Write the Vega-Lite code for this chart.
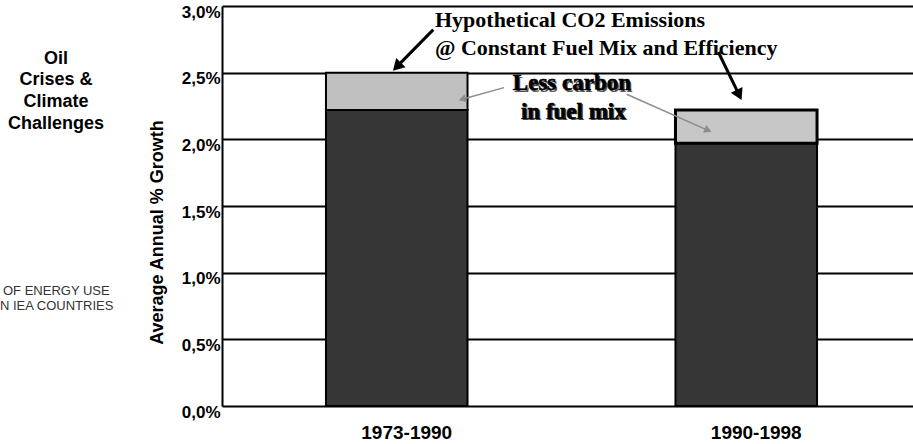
{
  "$schema": "https://vega.github.io/schema/vega-lite/v6.json",
  "width": 691,
  "height": 400,
  "autosize": {"type": "none"},
  "padding": {"left": 222, "top": 6, "right": 0, "bottom": 38},
  "background": "white",
  "config": {"view": {"stroke": null}, "font": "Liberation Sans"},
  "layer": [
    {
      "data": {"values": [
        {"period": "1973-1990", "actual": 2.22, "hypothetical": 2.5},
        {"period": "1990-1998", "actual": 1.97, "hypothetical": 2.22}
      ]},
      "layer": [
        {
          "mark": {"type": "bar", "fill": "#363636", "stroke": "#000", "strokeWidth": 2},
          "encoding": {
            "x": {
              "field": "period", "type": "nominal",
              "scale": {"paddingInner": 0.595, "paddingOuter": 0.286, "align": 0.52},
              "axis": {"title": null, "labelFont": "Liberation Sans", "labelFontSize": 19, "labelFontWeight": "bold", "labelColor": "#000", "labelPadding": 17, "labelOffset": 10, "ticks": false, "domain": false, "grid": false, "labelAngle": 0}
            },
            "y": {
              "field": "actual", "type": "quantitative",
              "scale": {"domain": [0, 3], "nice": false},
              "axis": {
                "title": "Average Annual % Growth", "titleFont": "Liberation Sans", "titleFontSize": 18, "titleFontWeight": "bold", "titleColor": "#000",
                "titleX": -65, "titleY": 226, "titleAngle": 270, "titleAlign": "center", "titleBaseline": "middle",
                "values": [0, 0.5, 1, 1.5, 2, 2.5, 3],
                "labelExpr": "replace(format(datum.value, '.1f'), '.', ',') + '%'",
                "labelFont": "Liberation Sans", "labelFontSize": 17, "labelFontWeight": "bold", "labelColor": "#000",
                "labelPadding": 2, "labelOffset": 6, "labelOverlap": false, "labelBound": false,
                "ticks": false, "domainColor": "#000", "domainWidth": 2,
                "grid": true, "gridColor": "#000", "gridWidth": 2, "gridOpacity": 1
              }
            }
          }
        },
        {
          "mark": {"type": "bar", "stroke": "#000"},
          "encoding": {
            "x": {"field": "period", "type": "nominal"},
            "y": {"field": "actual", "type": "quantitative"},
            "y2": {"field": "hypothetical"},
            "fill": {"condition": {"test": "datum.period === '1990-1998'", "value": "#c7c7c7"}, "value": "#c0c0c0"},
            "strokeWidth": {"condition": {"test": "datum.period === '1990-1998'", "value": 3}, "value": 2}
          }
        }
      ]
    },
    {
      "layer": [
        {
          "data": {"values": [
            {"u": 0.1053, "v": 2.823, "u2": 0.0011, "v2": 2.545},
            {"u": 0.9207, "v": 2.655, "u2": 0.9803, "v2": 2.333}
          ]},
          "mark": {"type": "rule", "color": "#000", "strokeWidth": 3},
          "encoding": {
            "x": {"field": "u", "type": "quantitative", "scale": {"domain": [-0.4993, 1.4778], "nice": false, "zero": false}, "axis": null},
            "y": {"field": "v", "type": "quantitative", "axis": null},
            "x2": {"field": "u2"},
            "y2": {"field": "v2"}
          }
        },
        {
          "data": {"values": [{"u": 0.0011, "v": 2.545}]},
          "mark": {"type": "point", "shape": "triangle-up", "filled": true, "size": 170, "angle": 224.4, "color": "#000", "opacity": 1},
          "encoding": {
            "x": {"field": "u", "type": "quantitative", "axis": null},
            "y": {"field": "v", "type": "quantitative", "axis": null}
          }
        },
        {
          "data": {"values": [{"u": 0.9803, "v": 2.333}]},
          "mark": {"type": "point", "shape": "triangle-up", "filled": true, "size": 170, "angle": 154.2, "color": "#000", "opacity": 1},
          "encoding": {
            "x": {"field": "u", "type": "quantitative", "axis": null},
            "y": {"field": "v", "type": "quantitative", "axis": null}
          }
        },
        {
          "data": {"values": [
            {"u": 0.3076, "v": 2.388, "u2": 0.188, "v2": 2.301},
            {"u": 0.6587, "v": 2.338, "u2": 0.8913, "v2": 2.067}
          ]},
          "mark": {"type": "rule", "color": "#8c8c8c", "strokeWidth": 1.5},
          "encoding": {
            "x": {"field": "u", "type": "quantitative", "axis": null},
            "y": {"field": "v", "type": "quantitative", "axis": null},
            "x2": {"field": "u2"},
            "y2": {"field": "v2"}
          }
        },
        {
          "data": {"values": [{"u": 0.188, "v": 2.301}]},
          "mark": {"type": "point", "shape": "triangle-up", "filled": true, "size": 70, "angle": 254.5, "color": "#8c8c8c", "opacity": 1},
          "encoding": {
            "x": {"field": "u", "type": "quantitative", "axis": null},
            "y": {"field": "v", "type": "quantitative", "axis": null}
          }
        },
        {
          "data": {"values": [{"u": 0.8913, "v": 2.067}]},
          "mark": {"type": "point", "shape": "triangle-up", "filled": true, "size": 70, "angle": 113.9, "color": "#8c8c8c", "opacity": 1},
          "encoding": {
            "x": {"field": "u", "type": "quantitative", "axis": null},
            "y": {"field": "v", "type": "quantitative", "axis": null}
          }
        },
        {
          "data": {"values": [
            {"text": "Hypothetical CO2 Emissions", "u": 0.110, "v": 2.844},
            {"text": "@ Constant Fuel Mix and Efficiency", "u": 0.110, "v": 2.634}
          ]},
          "mark": {"type": "text", "font": "Liberation Serif", "fontSize": 22, "fontWeight": "bold", "align": "left", "baseline": "alphabetic", "color": "#000"},
          "encoding": {
            "x": {"field": "u", "type": "quantitative", "axis": null},
            "y": {"field": "v", "type": "quantitative", "axis": null},
            "text": {"field": "text"}
          }
        },
        {
          "data": {"values": [
            {"text": "Less carbon", "u": 0.502, "v": 2.367},
            {"text": "in fuel mix", "u": 0.506, "v": 2.154}
          ]},
          "layer": [
            {
              "mark": {"type": "text", "font": "Liberation Serif", "fontSize": 23, "fontWeight": "bold", "align": "center", "baseline": "alphabetic", "color": "#555", "dx": 1.5, "dy": 1.5},
              "encoding": {
                "x": {"field": "u", "type": "quantitative", "axis": null},
                "y": {"field": "v", "type": "quantitative", "axis": null},
                "text": {"field": "text"}
              }
            },
            {
              "mark": {"type": "text", "font": "Liberation Serif", "fontSize": 23, "fontWeight": "bold", "align": "center", "baseline": "alphabetic", "color": "#000", "stroke": "#000", "strokeWidth": 0.6},
              "encoding": {
                "x": {"field": "u", "type": "quantitative", "axis": null},
                "y": {"field": "v", "type": "quantitative", "axis": null},
                "text": {"field": "text"}
              }
            }
          ]
        },
        {
          "data": {"values": [
            {"text": "Oil", "u": -0.974, "v": 2.568},
            {"text": "Crises &", "u": -0.974, "v": 2.405},
            {"text": "Climate", "u": -0.974, "v": 2.243},
            {"text": "Challenges", "u": -0.974, "v": 2.081}
          ]},
          "mark": {"type": "text", "font": "Liberation Sans", "fontSize": 18, "fontWeight": "bold", "align": "center", "baseline": "alphabetic", "color": "#000"},
          "encoding": {
            "x": {"field": "u", "type": "quantitative", "axis": null},
            "y": {"field": "v", "type": "quantitative", "axis": null},
            "text": {"field": "text"}
          }
        },
        {
          "data": {"values": [
            {"text": "OF ENERGY USE", "u": -1.1259, "v": 0.830},
            {"text": "N IEA COUNTRIES", "u": -1.1345, "v": 0.718}
          ]},
          "mark": {"type": "text", "font": "Liberation Sans", "fontSize": 13, "align": "left", "baseline": "alphabetic", "color": "#333"},
          "encoding": {
            "x": {"field": "u", "type": "quantitative", "axis": null},
            "y": {"field": "v", "type": "quantitative", "axis": null},
            "text": {"field": "text"}
          }
        }
      ]
    }
  ],
  "resolve": {"scale": {"x": "independent"}, "axis": {"y": "independent"}}
}
